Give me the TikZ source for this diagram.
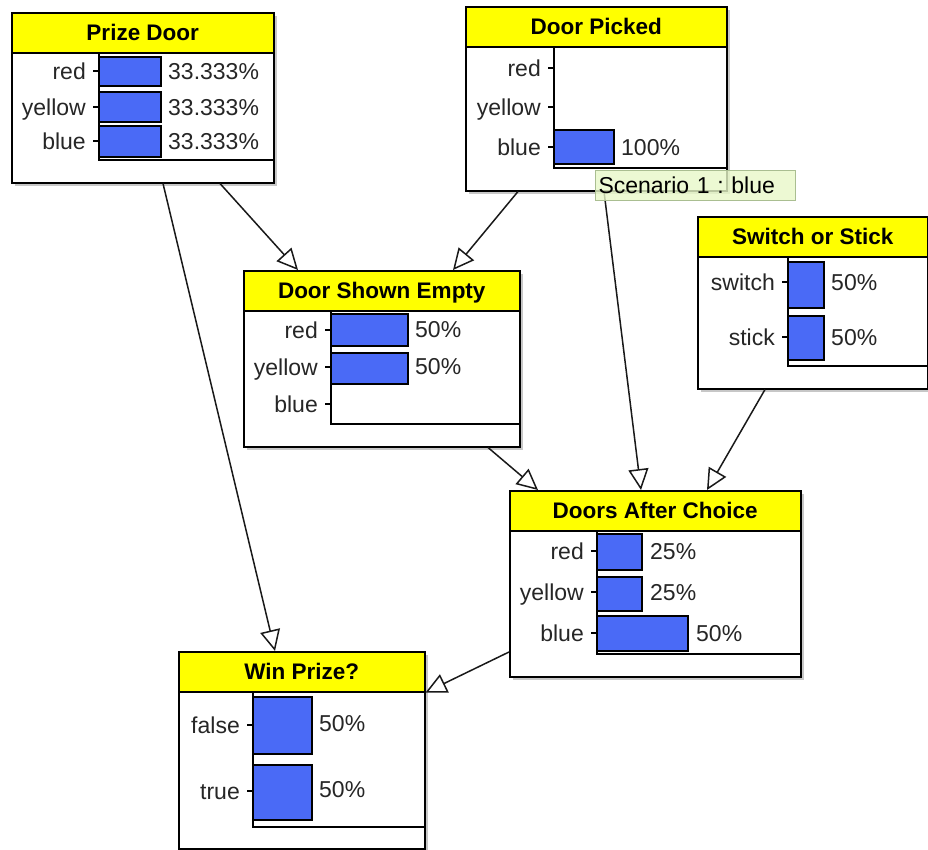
\documentclass[tikz,border=0pt]{standalone}
\usepackage{fontspec}
\setmainfont{Liberation Sans}
\usetikzlibrary{arrows.meta,shadows}

\definecolor{barblue}{RGB}{74,106,246}
\definecolor{headyellow}{RGB}{255,255,0}
\definecolor{tipgreen}{RGB}{232,248,200}
\definecolor{tipedge}{RGB}{170,190,145}

\tikzset{
  netbox/.style={draw, line width=1.5pt, fill=white, anchor=north west, inner sep=0pt,
    drop shadow={shadow xshift=3pt, shadow yshift=-3pt, fill=black!40, opacity=0.55}},
  headbar/.style={draw, line width=1.5pt, fill=headyellow, anchor=north west, inner sep=0pt,
    minimum height=40pt, font=\fontsize{22.5}{24}\selectfont\bfseries, text height=16pt, text depth=0pt},
  frame/.style={line width=1.5pt},
  statelab/.style={anchor=east, inner sep=0pt, font=\fontsize{23}{25}\selectfont, text=black!85,
    text height=16pt, text depth=0pt},
  pctlab/.style={statelab, anchor=west},
  tickline/.style={line width=1.2pt},
  bar/.style={draw, line width=1.5pt, fill=barblue},
  link/.style={line width=1.5pt, black!90, -{Triangle[open, fill=white, length=21pt, width=20pt]}},
  tipbox/.style={draw=tipedge, line width=1pt, fill=tipgreen, fill opacity=0.8, text opacity=1,
    anchor=north west, inner xsep=3pt, inner ysep=0pt, text width=194pt, minimum height=30pt,
    font=\fontsize{23}{25}\selectfont\frenchspacing, text height=16pt, text depth=0pt}
}

\begin{document}
\begin{tikzpicture}[x=1pt, y=-1pt]
  \useasboundingbox (0,0) rectangle (928,849);

  % Prize Door
  \node[netbox, minimum width=262pt, minimum height=170pt] (pd) at (11,12) {};
  \node[headbar, minimum width=262pt] (pd-t) at (pd.north west) {Prize Door};
  \draw[frame] (99,52) |- (273,160);
  \foreach \s/\y/\t/\b in {red/71/57/86, yellow/107/92/122, blue/141/126/157} {
    \node[statelab] (pd-\s) at (86,\y) {\s};
    \draw[tickline] (93,\y) -- (99,\y);
    \draw[bar] (99,\t) rectangle (161,\b);
    \node[pctlab] (pd-\s-p) at (168,\y) {33.333\%};
  }

  % Door Picked
  \node[netbox, minimum width=261pt, minimum height=184pt] (dp) at (465,6) {};
  \node[headbar, minimum width=261pt] (dp-t) at (dp.north west) {Door Picked};
  \draw[frame] (554,46) |- (726,168);
  \foreach \s/\y in {red/68, yellow/107, blue/147} {
    \node[statelab] (dp-\s) at (541,\y) {\s};
    \draw[tickline] (548,\y) -- (554,\y);
  }
  \draw[bar] (554,130) rectangle (614,164);
  \node[pctlab] (dp-blue-p) at (621,147) {100\%};

  % Switch or Stick
  \node[netbox, minimum width=230pt, minimum height=172pt] (sos) at (697,216) {};
  \node[headbar, minimum width=230pt] (sos-t) at (sos.north west) {Switch or Stick};
  \draw[frame] (788,256) |- (927,366);
  \foreach \s/\y/\t/\b in {switch/282/262/308, stick/337/316/360} {
    \node[statelab] (sos-\s) at (775,\y) {\s};
    \draw[tickline] (782,\y) -- (788,\y);
    \draw[bar] (788,\t) rectangle (824,\b);
    \node[pctlab] (sos-\s-p) at (831,\y) {50\%};
  }

  % Door Shown Empty
  \node[netbox, minimum width=276pt, minimum height=176pt] (dse) at (243,270) {};
  \node[headbar, minimum width=276pt] (dse-t) at (dse.north west) {Door Shown Empty};
  \draw[frame] (331,311) |- (519,424);
  \foreach \s/\y in {red/330, yellow/367, blue/404} {
    \node[statelab] (dse-\s) at (318,\y) {\s};
    \draw[tickline] (325,\y) -- (331,\y);
  }
  \draw[bar] (331,314) rectangle (408,346);
  \draw[bar] (331,353) rectangle (408,384);
  \node[pctlab] (dse-red-p) at (415,329) {50\%};
  \node[pctlab] (dse-yellow-p) at (415,366) {50\%};

  % Doors After Choice
  \node[netbox, minimum width=291pt, minimum height=186pt] (dac) at (509,490) {};
  \node[headbar, minimum width=291pt] (dac-t) at (dac.north west) {Doors After Choice};
  \draw[frame] (597,531) |- (800,654);
  \foreach \s/\y/\t/\b/\r/\p in {red/551/534/570/642/25, yellow/592/577/611/642/25, blue/633/616/651/688/50} {
    \node[statelab] (dac-\s) at (584,\y) {\s};
    \draw[tickline] (591,\y) -- (597,\y);
    \draw[bar] (597,\t) rectangle (\r,\b);
    \node[pctlab] (dac-\s-p) at (\r+8,\y) {\p\%};
  }

  % Win Prize?
  \node[netbox, minimum width=246pt, minimum height=197pt] (win) at (178,651) {};
  \node[headbar, minimum width=246pt] (win-t) at (win.north west) {Win Prize?};
  \draw[frame] (253,691) |- (424,827);
  \foreach \s/\y/\t/\b in {false/725/697/754, true/791/765/820} {
    \node[statelab] (win-\s) at (240,\y) {\s};
    \draw[tickline] (247,\y) -- (253,\y);
    \draw[bar] (253,\t) rectangle (312,\b);
    \node[pctlab] (win-\s-p) at (319,\y-2) {50\%};
  }

  % links
  \draw[link] ([xshift=209pt]pd.south west) -- ([xshift=55pt]dse.north west);
  \draw[link] ([xshift=152pt]pd.south west) -- ([xshift=97pt]win.north west);
  \draw[link] ([xshift=53pt]dp.south west) -- ([xshift=210pt]dse.north west);
  \draw[link] ([xshift=139pt]dp.south west) -- ([xshift=132pt]dac.north west);
  \draw[link] ([xshift=68pt]sos.south west) -- ([xshift=198pt]dac.north west);
  \draw[link] ([xshift=245pt]dse.south west) -- ([xshift=29pt]dac.north west);
  \draw[link] ([yshift=-162pt]dac.north west) -- (win-t.south east);

  % scenario tooltip
  \node[tipbox] (scen) at (595,170) {Scenario 1 : blue};
\end{tikzpicture}
\end{document}
